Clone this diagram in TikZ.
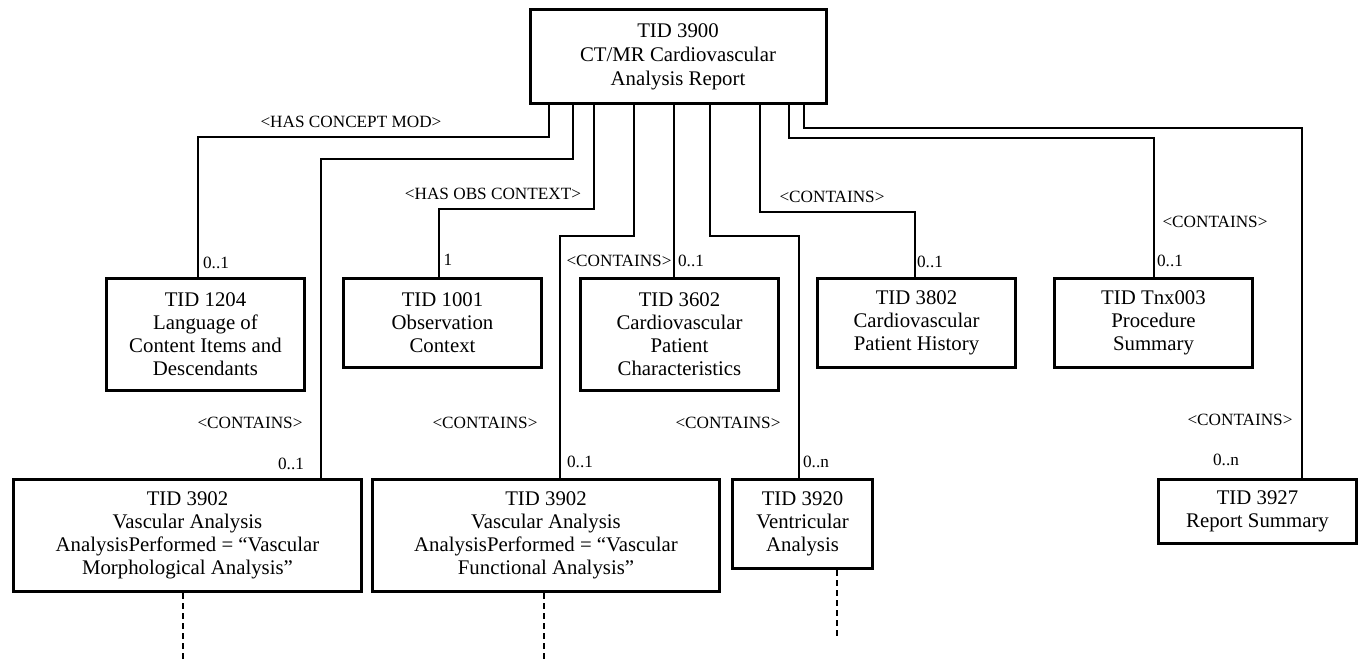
\documentclass[tikz,border=0pt]{standalone}
\usepackage{fontspec}
\setmainfont{Liberation Serif}
\usetikzlibrary{positioning}

\begin{document}
\begin{tikzpicture}[x=0.5pt,y=-0.5pt,node distance=18pt,
 tid/.style={draw,line width=1.5pt,align=center,inner sep=2pt,minimum width=99pt,font=\fontsize{10.4}{11.5}\selectfont},
 tidthree/.style={tid,minimum height=44.5pt},
 tidfour/.style={tid,minimum height=56pt},
 rel/.style={inner sep=0pt,font=\fontsize{8.6}{10}\selectfont},
 link/.style={line width=0.6pt},
 more/.style={line width=1.1pt,dash pattern=on 3pt off 2pt}]
 \useasboundingbox (0,0) rectangle (1361,661);
 \node[tid,minimum width=148pt,minimum height=47pt,font=\fontsize{10.4}{12}\selectfont,anchor=north] (root) at (678,8) {TID 3900\\CT/MR Cardiovascular\\Analysis Report};
 % first row
 \node[tidfour,anchor=north west] (t1204) at (105,277) {TID 1204\\Language of\\Content Items and\\Descendants};
 \node[tidthree,right=of t1204.north east,anchor=north west] (t1001) {TID 1001\\Observation\\Context};
 \node[tidfour,right=of t1001.north east,anchor=north west] (t3602) {TID 3602\\Cardiovascular\\Patient\\Characteristics};
 \node[tidthree,right=of t3602.north east,anchor=north west] (t3802) {TID 3802\\Cardiovascular\\Patient History};
 \node[tidthree,right=of t3802.north east,anchor=north west] (tnx003) {TID Tnx003\\Procedure\\Summary};
 % second row
 \node[tidfour,minimum width=174pt,anchor=north west] (t3902m) at (12,478) {TID 3902\\Vascular Analysis\\AnalysisPerformed = “Vascular\\Morphological Analysis”};
 \node[tidfour,minimum width=173.5pt,right=4pt of t3902m.north east,anchor=north west] (t3902f) {TID 3902\\Vascular Analysis\\AnalysisPerformed = “Vascular\\Functional Analysis”};
 \node[tidthree,minimum width=70pt,right=5pt of t3902f.north east,anchor=north west] (t3920) {TID 3920\\Ventricular\\Analysis};
 \node[tid,minimum height=32pt,anchor=north west] (t3927) at (1157,478) {TID 3927\\Report Summary};
 % connectors
 \draw[link] (root.south -| 549,0) -- (549,137) -| (t1204.north -| 198,0);
 \draw[link] (root.south -| 573,0) -- (573,159) -| (t3902m.north -| 321,0);
 \draw[link] (root.south -| 594,0) -- (594,209) -| (t1001.north -| 439,0);
 \draw[link] (root.south -| 634,0) -- (634,236) -| (t3902f.north -| 560,0);
 \draw[link] (root.south -| 674,0) -- (t3602.north -| 674,0);
 \draw[link] (root.south -| 710,0) -- (710,236) -| (t3920.north -| 799,0);
 \draw[link] (root.south -| 760,0) -- (760,212) -| (t3802.north -| 915,0);
 \draw[link] (root.south -| 789,0) -- (789,138) -| (tnx003.north -| 1154,0);
 \draw[link] (root.south -| 804,0) -- (804,128) -| (t3927.north -| 1302,0);
 % relationship labels
 \node[rel] (lcmod) at (351,122) {<HAS CONCEPT MOD>};
 \node[rel] (lobs) at (493,194) {<HAS OBS CONTEXT>};
 \node[rel] (l3602) at (619,261) {<CONTAINS>};
 \node[rel] (l3802) at (832,197) {<CONTAINS>};
 \node[rel] (ltnx) at (1215,222) {<CONTAINS>};
 \node[rel] (l3902m) at (250,423) {<CONTAINS>};
 \node[rel] (l3902f) at (485,423) {<CONTAINS>};
 \node[rel] (l3920) at (728,423) {<CONTAINS>};
 \node[rel] (l3927) at (1240,420) {<CONTAINS>};
 % cardinalities
 \node[rel] (c1204) at (216,263) {0..1};
 \node[rel] (c1001) at (448,260) {1};
 \node[rel] (c3602) at (691,261) {0..1};
 \node[rel] (c3802) at (930,262) {0..1};
 \node[rel] (ctnx) at (1170,261) {0..1};
 \node[rel] (c3902m) at (291,464) {0..1};
 \node[rel] (c3902f) at (580,462) {0..1};
 \node[rel] (c3920) at (816,462) {0..n};
 \node[rel] (c3927) at (1226,460) {0..n};
 % continuation below
 \coordinate (e3902m) at (183,661);
 \coordinate (e3902f) at (544,661);
 \coordinate (e3920) at (837,636);
 \draw[more] (t3902m.south -| e3902m) -- (e3902m);
 \draw[more] (t3902f.south -| e3902f) -- (e3902f);
 \draw[more] (t3920.south -| e3920) -- (e3920);
\end{tikzpicture}
\end{document}
